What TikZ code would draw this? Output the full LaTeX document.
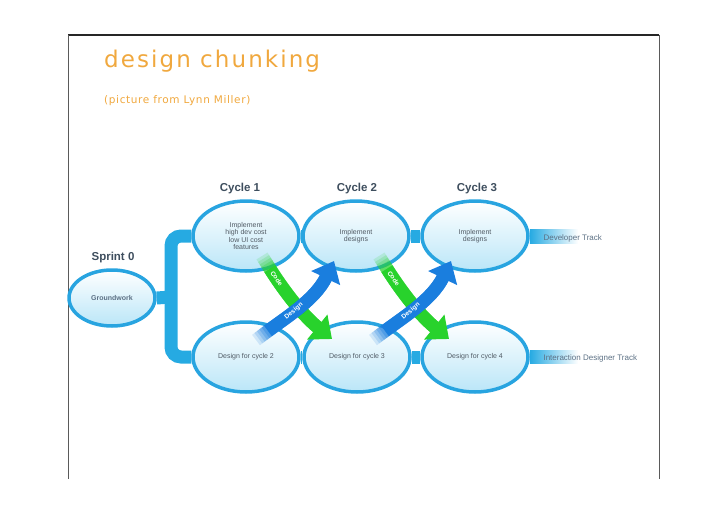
\documentclass[tikz,border=0pt]{standalone}
\usepackage{fontspec}
\setmainfont{Liberation Sans}
\newfontfamily\titlefont[LetterSpace=9]{DejaVu Sans}
\newfontfamily\subtitlefont[LetterSpace=6]{DejaVu Sans}
\usetikzlibrary{shapes.geometric,arrows.meta,backgrounds}

\definecolor{titleorange}{RGB}{240,168,62}
\definecolor{barblue}{RGB}{38,170,226}
\definecolor{rimblue}{RGB}{40,164,224}
\definecolor{bubblecyan}{RGB}{186,230,248}
\definecolor{codegreen}{RGB}{40,210,44}
\definecolor{designblue}{RGB}{26,126,222}
\definecolor{headgray}{RGB}{62,78,94}
\definecolor{textgray}{RGB}{80,90,100}
\definecolor{trackgray}{RGB}{92,112,132}
\definecolor{framegray}{RGB}{90,90,90}

\begin{document}
\begin{tikzpicture}[
    x=1pt,
    y=-1pt,
    line join=round,
    bubble/.style={ellipse, draw=rimblue, line width=3.5pt, top color=white, bottom color=bubblecyan,
        minimum width=106pt, minimum height=70pt, inner sep=0pt, align=center,
        text=textgray, font=\fontsize{7}{7.4}\selectfont},
    trackbar/.style={barblue, line width=13pt},
    cycletitle/.style={text=headgray, font=\bfseries\fontsize{11.5}{13}\selectfont},
    track/.style={text=trackgray, font=\fontsize{8}{9}\selectfont, anchor=west},
    arrowbody/.style={line width=13pt},
    arrowtip/.style={-{Triangle[width=31pt,length=19pt]}},
    arrowtext/.style={sloped, text=white, inner sep=0pt, font=\bfseries\fontsize{6.5}{7}\selectfont}
]
\useasboundingbox (0,0) rectangle (728,514);

% slide frame and heading
\draw[line width=1.1pt, black!85] (68,35) -- (659,35);
\draw[line width=0.9pt, framegray] (68,35) -- (68,479);
\draw[line width=0.9pt, framegray] (659,35) -- (659,479);
\node[anchor=base west, inner sep=0pt, text=titleorange, font=\titlefont\fontsize{23}{26}\selectfont] (title) at (104,67) {design chunking};
\node[anchor=base west, inner sep=0pt, text=titleorange, font=\subtitlefont\fontsize{10.5}{12}\selectfont] (credit) at (104,103) {(picture from Lynn Miller)};

% bubbles
\node[bubble, minimum width=86pt, minimum height=56pt, text=trackgray, font=\bfseries\fontsize{7}{8}\selectfont] (gw) at (112,298) {Groundwork};
\node[bubble] (c1t) at (246,236) {Implement\\high dev cost\\low UI cost\\features};
\node[bubble] (c2t) at (356,236) {Implement\\designs};
\node[bubble] (c3t) at (475,236) {Implement\\designs};
\node[bubble] (c1b) at (246,357) {Design for cycle 2};
\node[bubble] (c2b) at (357,357) {Design for cycle 3};
\node[bubble] (c3b) at (475,357) {Design for cycle 4};

\node[cycletitle] (sprint0) at (113,258) {Sprint 0};
\node[cycletitle] (cyc1) at (240,189) {Cycle 1};
\node[cycletitle] (cyc2) at (357,189) {Cycle 2};
\node[cycletitle] (cyc3) at (477,189) {Cycle 3};

\coordinate (split) at (171,297);
\coordinate (devend) at (578,237);
\coordinate (ixdend) at (578,357);

\begin{scope}[on background layer]
\draw[trackbar, rounded corners=10pt] (c1t.west) -| (split) |- (c1b.west);
\draw[trackbar] (gw.east) -- (split);
\draw[trackbar] (c1t.east) -- (c2t.west);
\draw[trackbar] (c2t.east) -- (c3t.west);
\draw[trackbar] (c1b.east) -- (c2b.west);
\draw[trackbar] (c2b.east) -- (c3b.west);
\shade[left color=barblue, right color=white] ([yshift=6.5pt]c3t.east) rectangle ([yshift=-6.5pt]devend);
\shade[left color=barblue, right color=white] ([yshift=6.5pt]c3b.east) rectangle ([yshift=-6.5pt]ixdend);
\end{scope}

\node[track] (devtrack) at (540,238) {Developer Track};
\node[track] (ixdtrack) at (540,358) {Interaction Designer Track};

% code goes down, design goes up
\coordinate (g1s) at (262,256);
\coordinate (g1a) at (280,285);
\coordinate (g1b) at (300,313);
\coordinate (g1e) at (332,339);
\coordinate (b1s) at (256,340);
\coordinate (b1a) at (285,318);
\coordinate (b1b) at (315,300);
\coordinate (b1e) at (334,261);
\coordinate (g2s) at (379,256);
\coordinate (g2a) at (397,285);
\coordinate (g2b) at (417,313);
\coordinate (g2e) at (449,339);
\coordinate (b2s) at (373,340);
\coordinate (b2a) at (402,318);
\coordinate (b2b) at (432,300);
\coordinate (b2e) at (451,261);

% faded tails
\foreach \s/\o in {0/0.15,3/0.18,6/0.22,9/0.28,12/0.35} {
  \draw[arrowbody, codegreen, opacity=\o, shorten <=\s pt, shorten >=18pt] (g1s) .. controls (g1a) and (g1b) .. (g1e);
  \draw[arrowbody, codegreen, opacity=\o, shorten <=\s pt, shorten >=18pt] (g2s) .. controls (g2a) and (g2b) .. (g2e);
}
\draw[arrowbody, arrowtip, codegreen, shorten <=15pt] (g1s) .. controls (g1a) and (g1b) .. node[arrowtext, pos=0.26] (code1) {Code} (g1e);
\draw[arrowbody, arrowtip, codegreen, shorten <=15pt] (g2s) .. controls (g2a) and (g2b) .. node[arrowtext, pos=0.26] (code2) {Code} (g2e);

\foreach \s/\o in {0/0.15,3/0.18,6/0.22,9/0.28,12/0.35} {
  \draw[arrowbody, designblue, opacity=\o, shorten <=\s pt, shorten >=18pt] (b1s) .. controls (b1a) and (b1b) .. (b1e);
  \draw[arrowbody, designblue, opacity=\o, shorten <=\s pt, shorten >=18pt] (b2s) .. controls (b2a) and (b2b) .. (b2e);
}
\draw[arrowbody, arrowtip, designblue, shorten <=15pt] (b1s) .. controls (b1a) and (b1b) .. node[arrowtext, pos=0.44] (design1) {Design} (b1e);
\draw[arrowbody, arrowtip, designblue, shorten <=15pt] (b2s) .. controls (b2a) and (b2b) .. node[arrowtext, pos=0.44] (design2) {Design} (b2e);

\end{tikzpicture}
\end{document}
